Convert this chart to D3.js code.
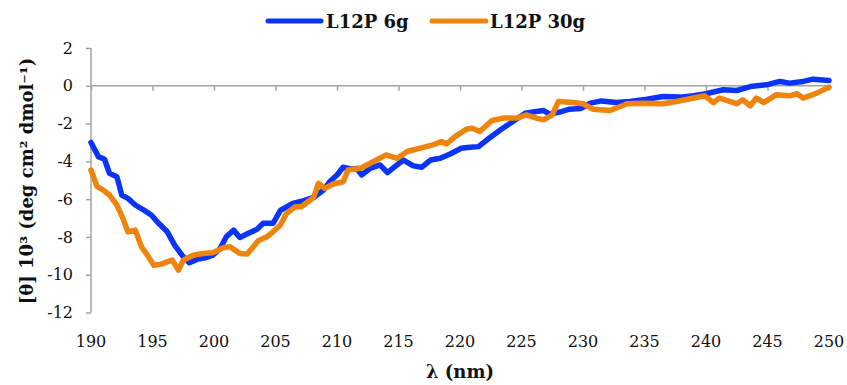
<!DOCTYPE html>
<html><head><meta charset="utf-8">
<script src="https://cdn.jsdelivr.net/npm/d3@7"></script>
<style>body{margin:0;background:#fff}</style>
</head><body>
<svg id="c" width="847" height="385"></svg>
<script>
const seriesNames = ["L12P 6g", "L12P 30g"];
const seriesColors = ["#0A35F8", "#EE840C"];
const xTicks = [190,195,200,205,210,215,220,225,230,235,240,245,250];
const yTicks = [2,0,-2,-4,-6,-8,-10,-12];

const wl6 = [190,190.6,191.1,191.5,192.1,192.5,193,193.6,194.3,194.9,195.5,196.2,196.8,197.5,198,198.6,199.4,199.9,200.5,201,201.6,202.1,202.8,203.5,204,204.8,205.4,206.4,207.3,208.1,208.9,209.4,210,210.5,211.2,211.6,212,212.7,213.5,214.1,214.7,215.4,216.2,216.9,217.6,218.4,219.2,220.1,220.8,221.5,222.2,223.3,224.3,225.3,226.2,226.8,227.3,228.1,228.9,229.8,230.6,231.5,232.7,233.8,235.2,236.5,237.9,239,240,241.4,242.5,243.6,244.9,246,246.8,247.9,248.7,250];
const val6 = [-3.0,-3.75,-3.89,-4.63,-4.81,-5.78,-5.96,-6.31,-6.58,-6.84,-7.28,-7.73,-8.43,-9.05,-9.37,-9.19,-9.09,-8.97,-8.61,-7.99,-7.64,-8.03,-7.81,-7.6,-7.28,-7.28,-6.6,-6.23,-6.08,-5.91,-5.52,-5.08,-4.72,-4.31,-4.42,-4.37,-4.72,-4.37,-4.19,-4.6,-4.28,-3.93,-4.24,-4.31,-3.93,-3.84,-3.61,-3.31,-3.25,-3.22,-2.86,-2.33,-1.89,-1.45,-1.36,-1.31,-1.5,-1.39,-1.24,-1.2,-0.92,-0.8,-0.89,-0.83,-0.71,-0.57,-0.6,-0.53,-0.42,-0.21,-0.25,-0.04,0.05,0.23,0.14,0.23,0.35,0.28];

const wl30 = [190,190.5,191,191.5,192.1,192.6,193,193.6,194.1,194.5,195.1,195.7,196.6,197.1,197.5,198.3,199.1,199.9,200.8,201.3,202.1,202.7,203.6,204.3,204.8,205.4,205.9,206.6,207.1,208.1,208.5,209,209.7,210.5,210.9,211.9,212.7,214,214.9,215.7,216.7,217.8,218.5,218.9,219.6,220.5,221,221.6,222.6,223.5,224.6,225.4,226.2,226.8,227.5,228,229.2,230,230.8,232.2,233.6,234.9,236.5,237.6,239,239.9,240.6,241.1,242.5,243,243.6,244.1,244.7,245.7,246.8,247.4,247.9,249,250];
const val30 = [-4.46,-5.34,-5.52,-5.78,-6.31,-7.02,-7.73,-7.64,-8.52,-8.88,-9.5,-9.44,-9.23,-9.76,-9.23,-8.97,-8.88,-8.84,-8.56,-8.52,-8.88,-8.91,-8.2,-7.99,-7.73,-7.37,-6.75,-6.4,-6.4,-5.91,-5.16,-5.43,-5.2,-5.08,-4.46,-4.37,-4.1,-3.66,-3.84,-3.48,-3.31,-3.13,-2.95,-3.08,-2.69,-2.3,-2.25,-2.42,-1.84,-1.71,-1.71,-1.54,-1.71,-1.8,-1.54,-0.83,-0.89,-0.95,-1.24,-1.31,-0.95,-0.92,-0.95,-0.83,-0.65,-0.53,-0.89,-0.65,-0.95,-0.74,-1.06,-0.65,-0.89,-0.48,-0.53,-0.42,-0.65,-0.39,-0.07];

const series = [
  {name: seriesNames[0], color: seriesColors[0], pts: wl6.map((w,i)=>[w,val6[i]])},
  {name: seriesNames[1], color: seriesColors[1], pts: wl30.map((w,i)=>[w,val30[i]])}
];

const svg = d3.select("#c");
const font = "'DejaVu Serif', Georgia, serif";
const axisColor = "#a3a3a3";
const x = d3.scaleLinear().domain([190,250]).range([91,829]);
const y = d3.scaleLinear().domain([-12,2]).range([312.5,48]);

// y axis
const yAxis = svg.append("g").attr("transform","translate(91,0)")
  .call(d3.axisLeft(y).tickValues(yTicks).tickSize(5).tickFormat(d=>d));
yAxis.select(".domain").attr("stroke",axisColor).attr("stroke-width",1.5).attr("d","M0,"+y(2)+"V"+y(-12));
yAxis.selectAll(".tick line").attr("stroke",axisColor).attr("stroke-width",1.5);
yAxis.selectAll(".tick text").attr("x",-18).attr("font-family",font).attr("font-size",16).attr("fill","#111");

// x axis at zero
const xAxis = svg.append("g").attr("transform","translate(0,"+y(0)+")")
  .call(d3.axisBottom(x).tickValues(xTicks).tickSize(5).tickFormat(""));
xAxis.select(".domain").attr("stroke",axisColor).attr("stroke-width",1.5).attr("d","M"+x(190)+",0H"+x(250));
xAxis.selectAll(".tick line").attr("stroke",axisColor).attr("stroke-width",1.5);

// x tick labels at bottom
svg.append("g").selectAll("text").data(xTicks).join("text")
  .attr("x",d=>x(d)).attr("y",347).attr("text-anchor","middle")
  .attr("font-family",font).attr("font-size",16).attr("fill","#111").text(d=>d);

// lines
const line = d3.line().x(d=>x(d[0])).y(d=>y(d[1])).curve(d3.curveLinear);
svg.append("g").selectAll("path").data(series).join("path")
  .attr("d",d=>line(d.pts)).attr("fill","none").attr("stroke",d=>d.color)
  .attr("stroke-width",5.5).attr("stroke-linejoin","round").attr("stroke-linecap","round");

// legend
const leg = [{x1:268,x2:321,tx:326},{x1:432,x2:486,tx:490}];
series.forEach((s,i)=>{
  svg.append("line").attr("x1",leg[i].x1).attr("x2",leg[i].x2).attr("y1",21).attr("y2",21)
    .attr("stroke",s.color).attr("stroke-width",5).attr("stroke-linecap","round");
  svg.append("text").attr("x",leg[i].tx).attr("y",28).attr("font-family",font)
    .attr("font-weight","bold").attr("font-size",18).attr("fill","#111").text(s.name);
});

// axis titles
svg.append("text").attr("transform","translate(33,181) rotate(-90)").attr("text-anchor","middle")
  .attr("font-family",font).attr("font-weight","bold").attr("font-size",18).attr("fill","#111")
  .text("[θ] 10³ (deg cm² dmol⁻¹)");
svg.append("text").attr("x",460).attr("y",378).attr("text-anchor","middle")
  .attr("font-family",font).attr("font-weight","bold").attr("font-size",18).attr("fill","#111")
  .text("λ (nm)");
</script>
</body></html>
